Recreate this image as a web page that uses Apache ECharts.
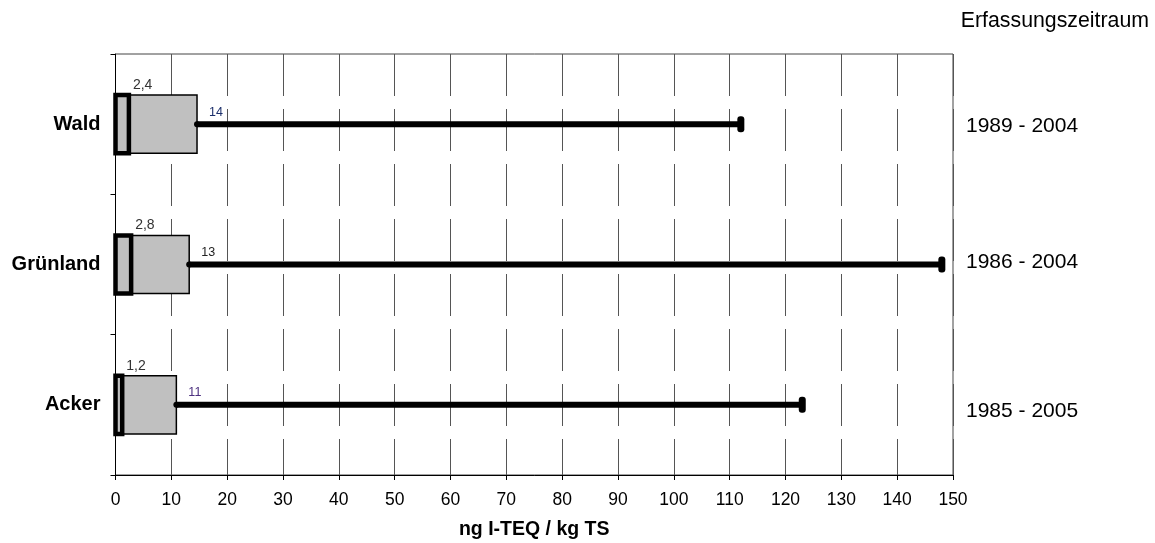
<!DOCTYPE html>
<html><head><meta charset="utf-8">
<script src="https://cdn.jsdelivr.net/npm/echarts@6/dist/echarts.min.js"></script>
<style>html,body{margin:0;padding:0;background:#fff}#c{width:1155px;height:543px}</style>
</head><body><div id="c"></div>
<script>
const categories = ['Wald', 'Grünland', 'Acker'];
const periods = ['1989 - 2004', '1986 - 2004', '1985 - 2005'];
const innerValues = [2.4, 2.8, 1.2];
const innerLabels = ['2,4', '2,8', '1,2'];
const boxValues = [14.6, 13.2, 10.9];
const boxLabels = ['14', '13', '11'];
const maxValues = [112, 148, 123];
const boxLabelColors = ['#1c2f6b', '#222222', '#4b2f7f'];

const FONT = 'Liberation Sans, Arial, sans-serif';
const seriesData = categories.map((c, i) => [i, innerValues[i], boxValues[i], maxValues[i]]);

function renderItem(params, api) {
  const i = api.value(0);
  const p0 = api.coord([0, i]);
  const pm = api.coord([api.value(1), i]);
  const pb = api.coord([api.value(2), i]);
  const px = api.coord([api.value(3), i]);
  const band = api.size([0, 1])[1];
  const h = band * 0.415;
  const cy = p0[1];
  return {
    type: 'group',
    children: [
      { type: 'line', shape: { x1: pb[0], y1: cy, x2: px[0], y2: cy }, style: { stroke: '#000', lineWidth: 6 } },
      { type: 'rect', shape: { x: px[0] - 3.5, y: cy - 8, width: 7, height: 16, r: 3 }, style: { fill: '#000' } },
      { type: 'rect', shape: { x: p0[0], y: cy - h / 2, width: pb[0] - p0[0], height: h }, style: { fill: '#c0c0c0', stroke: '#000', lineWidth: 1.5 } },
      { type: 'rect', shape: { x: p0[0], y: cy - h / 2, width: pm[0] - p0[0], height: h }, style: { fill: '#c0c0c0', stroke: '#000', lineWidth: 4.5 } },
      { type: 'circle', shape: { cx: pb[0], cy: cy, r: 3 }, style: { fill: '#000' } },
      { type: 'text', style: { text: innerLabels[i], x: pm[0] + 4, y: cy - h / 2 - 10, fontSize: 14, fill: '#333', align: 'left', verticalAlign: 'middle', fontFamily: FONT } },
      { type: 'text', style: { text: boxLabels[i], x: pb[0] + 12, y: cy - 12, fontSize: 12.5, fill: boxLabelColors[i], align: 'left', verticalAlign: 'middle', fontFamily: FONT } }
    ]
  };
}

const chart = echarts.init(document.getElementById('c'));
chart.setOption({
  animation: false,
  textStyle: { fontFamily: FONT },
  grid: { left: 115.5, right: 202, top: 54, bottom: 68, show: true, borderColor: '#444', borderWidth: 1, containLabel: false, outerBoundsMode: 'none' },
  graphic: [{ type: 'text', right: 6, top: 11, style: { text: 'Erfassungszeitraum', fontSize: 21.3, fill: '#000', fontFamily: FONT } }],
  xAxis: {
    type: 'value', min: 0, max: 150, interval: 10,
    axisLine: { show: true, lineStyle: { color: '#000', width: 1 } },
    axisTick: { show: true, length: 5, lineStyle: { color: '#000' } },
    axisLabel: { fontSize: 17.5, color: '#000', margin: 16 },
    splitLine: { show: true, lineStyle: { color: '#555', width: 1, type: [42, 13] } },
    name: 'ng I-TEQ / kg TS', nameLocation: 'middle', nameGap: 45,
    nameTextStyle: { fontSize: 19.5, fontWeight: 'bold', color: '#000' }
  },
  yAxis: [
    {
      type: 'category', data: categories, inverse: true,
      axisLine: { show: true, lineStyle: { color: '#000' } },
      axisTick: { show: true, length: 5, lineStyle: { color: '#000' } },
      axisLabel: { fontSize: 20, fontWeight: 'bold', color: '#000', margin: 15, padding: [3, 0, 0, 0] },
      splitLine: { show: false }
    },
    {
      type: 'category', data: periods, inverse: true, position: 'right',
      axisLine: { show: false }, axisTick: { show: false },
      axisLabel: {
        color: '#000', margin: 13,
        formatter: (v, i) => '{p' + i + '|' + v + '}',
        rich: {
          p0: { fontSize: 21, padding: [4, 0, 0, 0] },
          p1: { fontSize: 21, padding: [0, 0, 4, 0] },
          p2: { fontSize: 21, padding: [12, 0, 0, 0] }
        }
      },
      splitLine: { show: false }
    }
  ],
  series: [{
    type: 'custom', renderItem: renderItem, data: seriesData,
    encode: { x: [1, 2, 3], y: 0 }, yAxisIndex: 0, clip: false
  }]
});
</script>
</body></html>
